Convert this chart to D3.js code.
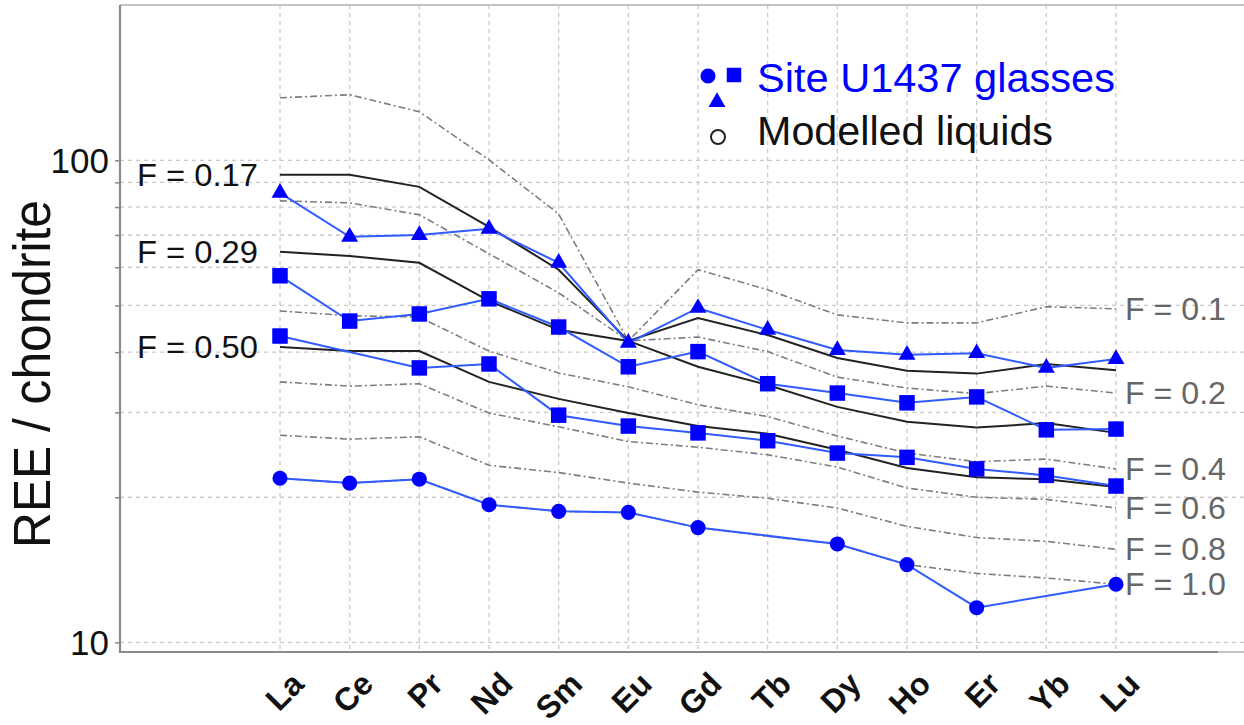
<!DOCTYPE html>
<html>
<head>
<meta charset="utf-8">
<script src="https://cdn.jsdelivr.net/npm/d3@7"></script>
<style>
  body { margin: 0; background: #fff; }
  svg { display: block; font-family: "Liberation Sans", Arial, Helvetica, sans-serif; }
</style>
</head>
<body>
<svg id="chart" width="1244" height="725"></svg>
<script>
// Rare earth elements, chondrite-normalised
const elements = ["La", "Ce", "Pr", "Nd", "Sm", "Eu", "Gd", "Tb", "Dy", "Ho", "Er", "Yb", "Lu"];
const gridValues = [10, 20, 30, 40, 50, 60, 70, 80, 90, 100];
const labelledTicks = [10, 100];

// Site U1437 glasses (null = element not analysed)
const glassTriangle = [85.6, 69.4, 70.0, 72.1, 61.3, 41.8, 49.4, 44.5, 40.4, 39.5, 39.8, 37.1, 38.7];
const glassSquareA  = [57.6, 46.4, 48.0, 51.6, 45.1, 37.3, 40.1, 34.4, 32.9, 31.4, 32.3, 27.6, 27.7];
const glassSquareB  = [43.2, null, 37.1, 37.8, 29.6, 28.1, 27.2, 26.2, 24.7, 24.2, 22.9, 22.2, 21.1];
const glassCircle   = [21.9, 21.4, 21.8, 19.3, 18.7, 18.6, 17.3, null, 16.0, 14.5, 11.8, null, 13.2];

// Modelled liquids for melt fraction F
const liquidF010 = [134.8, 136.8, 126.1, 100.2, 77.4, 42.2, 59.3, 53.9, 47.8, 46.0, 46.0, 49.7, 49.2];
const liquidF017 = [93.3, 93.3, 88.1, 72.8, 59.3, 42.2, 47.1, 43.4, 38.9, 36.6, 36.1, 37.8, 36.7];
const liquidF020 = [82.4, 81.6, 77.1, 64.0, 53.1, 42.2, 43.0, 40.1, 35.5, 33.7, 32.8, 34.0, 32.9];
const liquidF029 = [64.6, 63.3, 61.3, 51.1, 44.5, 42.2, 37.3, 34.2, 30.8, 28.7, 27.9, 28.5, 27.2];
const liquidF040 = [48.7, 47.6, 47.3, 40.2, 36.2, 33.9, 31.1, 29.4, 26.8, 24.7, 23.7, 24.0, 22.9];
const liquidF050 = [41.0, 40.2, 40.2, 34.7, 32.0, 29.9, 28.1, 27.1, 25.1, 23.0, 22.0, 21.8, 21.0];
const liquidF060 = [34.7, 34.0, 34.4, 29.9, 28.0, 26.1, 25.4, 24.5, 23.1, 20.9, 20.0, 19.8, 19.0];
const liquidF080 = [26.9, 26.4, 26.7, 23.3, 22.5, 21.4, 20.5, 19.9, 19.0, 17.4, 16.5, 16.2, 15.6];
const liquidF100 = [21.9, 21.4, 21.8, 19.3, 18.7, 18.6, 17.3, 16.6, 16.0, 14.5, 13.9, 13.6, 13.2];

const curveLabels  = ["F = 0.1", "F = 0.17", "F = 0.2", "F = 0.29", "F = 0.4", "F = 0.50", "F = 0.6", "F = 0.8", "F = 1.0"];
const curveValues  = [liquidF010, liquidF017, liquidF020, liquidF029, liquidF040, liquidF050, liquidF060, liquidF080, liquidF100];
const curveHighlighted = [false, true, false, true, false, true, false, false, false];

const legendLabels = ["Site U1437 glasses", "Modelled liquids"];
const yTitle = "REE / chondrite";

// ---- layout ----
const panel = { left: 120, right: 1244, top: 5, bottom: 652 };
const svg = d3.select("#chart");

const x = d3.scalePoint().domain(elements).range([280, 1116]);
const y = d3.scaleLog().domain([9.55, 210]).range([panel.bottom, panel.top]);

const blue = "#0000ff";
const blueLine = "#2f5bff";

// grid
const grid = svg.append("g");
grid.selectAll("line.h").data(gridValues).join("line")
  .attr("x1", panel.left).attr("x2", panel.right)
  .attr("y1", d => y(d)).attr("y2", d => y(d))
  .attr("stroke", "#c9c9c9").attr("stroke-width", 1.3).attr("stroke-dasharray", "4,4");
grid.selectAll("line.v").data(elements).join("line")
  .attr("x1", d => x(d)).attr("x2", d => x(d))
  .attr("y1", panel.top).attr("y2", panel.bottom)
  .attr("stroke", "#c9c9c9").attr("stroke-width", 1.3).attr("stroke-dasharray", "4,4");

// panel frame
svg.append("line").attr("x1", panel.left).attr("x2", panel.right)
  .attr("y1", panel.top).attr("y2", panel.top)
  .attr("stroke", "#c4c4c4").attr("stroke-width", 2);

// y axis
const yAxis = d3.axisLeft(y)
  .tickValues(gridValues)
  .tickSize(5)
  .tickFormat(d => labelledTicks.includes(d) ? String(d) : "");
const yg = svg.append("g").attr("transform", `translate(${panel.left},0)`).call(yAxis);
yg.select(".domain").remove();
yg.selectAll(".tick line").attr("stroke", "#888").attr("stroke-width", 1.5);
yg.selectAll(".tick text").attr("font-size", 35).attr("fill", "#111")
  .attr("font-family", "Liberation Sans, Arial, sans-serif").attr("x", -11).attr("dy", "0.35em");
svg.append("line").attr("x1", panel.left).attr("x2", panel.left)
  .attr("y1", panel.top).attr("y2", panel.bottom + 1)
  .attr("stroke", "#8a8a8a").attr("stroke-width", 2.2);

// x axis
const xAxis = d3.axisBottom(x).tickSize(0).tickFormat(d => d);
const xg = svg.append("g").attr("transform", `translate(0,${panel.bottom})`).call(xAxis);
xg.select(".domain").remove();
xg.selectAll(".tick text")
  .attr("font-size", 32).attr("font-weight", "bold").attr("fill", "#111")
  .attr("font-family", "Liberation Sans, Arial, sans-serif")
  .attr("text-anchor", "end")
  .attr("dy", 0).attr("y", 0)
  .attr("transform", "translate(25,34) rotate(-45)");
svg.append("line").attr("x1", panel.left).attr("x2", 1218)
  .attr("y1", panel.bottom).attr("y2", panel.bottom)
  .attr("stroke", "#8a8a8a").attr("stroke-width", 2.2);
svg.append("line").attr("x1", 1218).attr("x2", panel.right)
  .attr("y1", panel.bottom).attr("y2", panel.bottom)
  .attr("stroke", "#c4c4c4").attr("stroke-width", 2);

// y title
svg.append("text")
  .attr("transform", "translate(50,374) rotate(-90)")
  .attr("text-anchor", "middle")
  .attr("font-size", 51).attr("fill", "#111")
  .attr("textLength", 348).attr("lengthAdjust", "spacingAndGlyphs")
  .text(yTitle);

// ---- model curves ----
const toPoints = vals => elements.map((e, i) => ({ e, v: vals[i] })).filter(p => p.v != null);
const line = d3.line().x(p => x(p.e)).y(p => y(p.v));

const curves = curveLabels.map((label, i) => ({ label, values: curveValues[i], hi: curveHighlighted[i] }));

svg.append("g").selectAll("path").data(curves.filter(c => !c.hi)).join("path")
  .attr("d", c => line(toPoints(c.values)))
  .attr("fill", "none").attr("stroke", "#7d7d7d").attr("stroke-width", 1.6)
  .attr("stroke-dasharray", "7,3,2,3");
svg.append("g").selectAll("path").data(curves.filter(c => c.hi)).join("path")
  .attr("d", c => line(toPoints(c.values)))
  .attr("fill", "none").attr("stroke", "#222").attr("stroke-width", 2);

// curve labels: highlighted on the left of La, others right of Lu
svg.append("g").selectAll("text").data(curves.filter(c => c.hi)).join("text")
  .attr("x", x("La") - 22).attr("y", c => y(c.values[0]))
  .attr("dy", "0.36em").attr("text-anchor", "end")
  .attr("font-size", 31).attr("fill", "#111")
  .attr("textLength", 121).attr("lengthAdjust", "spacingAndGlyphs")
  .text(c => c.label);
svg.append("g").selectAll("text").data(curves.filter(c => !c.hi)).join("text")
  .attr("x", x("Lu") + 9).attr("y", c => y(c.values[elements.length - 1]))
  .attr("dy", "0.36em").attr("text-anchor", "start")
  .attr("font-size", 31).attr("fill", "#666")
  .attr("textLength", 101).attr("lengthAdjust", "spacingAndGlyphs")
  .text(c => c.label);

// ---- glass data ----
const glassSeries = [
  { values: glassTriangle, shape: d3.symbolTriangle, size: 125 },
  { values: glassSquareA,  shape: d3.symbolSquare,   size: 240 },
  { values: glassSquareB,  shape: d3.symbolSquare,   size: 240 },
  { values: glassCircle,   shape: d3.symbolCircle,   size: 180 }
];
const gData = svg.append("g");
glassSeries.forEach(s => {
  const pts = toPoints(s.values);
  gData.append("path").attr("d", line(pts))
    .attr("fill", "none").attr("stroke", blueLine).attr("stroke-width", 2);
  gData.append("g").selectAll("path").data(pts).join("path")
    .attr("transform", p => `translate(${x(p.e)},${y(p.v)})`)
    .attr("d", d3.symbol().type(s.shape).size(s.size))
    .attr("fill", blue);
});

// ---- legend ----
const lg = svg.append("g");
lg.append("path").attr("transform", "translate(708,76)")
  .attr("d", d3.symbol().type(d3.symbolCircle).size(180)).attr("fill", blue);
lg.append("path").attr("transform", "translate(734,75)")
  .attr("d", d3.symbol().type(d3.symbolSquare).size(210)).attr("fill", blue);
lg.append("path").attr("transform", "translate(717,102)")
  .attr("d", d3.symbol().type(d3.symbolTriangle).size(125)).attr("fill", blue);
lg.append("circle").attr("cx", 718).attr("cy", 137).attr("r", 7)
  .attr("fill", "none").attr("stroke", "#222").attr("stroke-width", 2);
lg.append("text").attr("x", 757).attr("y", 92).attr("font-size", 40).attr("fill", blue)
  .attr("textLength", 358).attr("lengthAdjust", "spacingAndGlyphs")
  .text(legendLabels[0]);
lg.append("text").attr("x", 757).attr("y", 145).attr("font-size", 40).attr("fill", "#111")
  .attr("textLength", 296).attr("lengthAdjust", "spacingAndGlyphs")
  .text(legendLabels[1]);
</script>
</body>
</html>
